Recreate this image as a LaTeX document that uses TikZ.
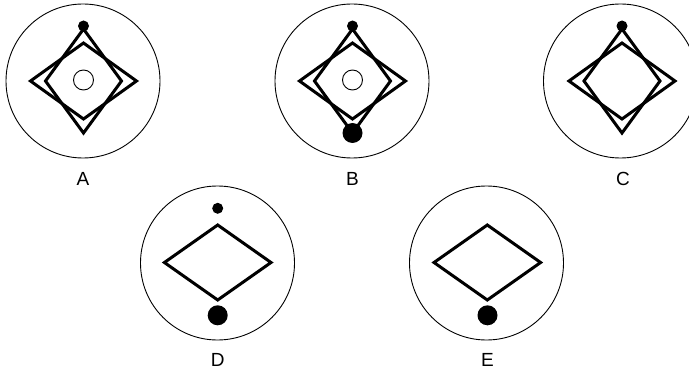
\documentclass[tikz,border=0pt]{standalone}
\usepackage{fontspec}
\setmainfont{Liberation Sans}
\usetikzlibrary{calc}

\begin{document}
\begin{tikzpicture}[x=1pt,y=-1pt,
  ring/.style={draw,circle,line width=0.9pt,minimum size=154pt,inner sep=0pt},
  hole/.style={draw,circle,line width=0.9pt,minimum size=20pt,inner sep=0pt},
  dot/.style={circle,fill,inner sep=0pt,minimum size=11pt},
  bigdot/.style={circle,fill,inner sep=0pt,minimum size=20pt},
  bold/.style={line width=3pt,line join=miter},
  lbl/.style={inner sep=0pt,font=\fontsize{19}{21}\selectfont}]
\clip (0,0) rectangle (689,369);
% big rings
\node[ring] (ra) at (83,81) {};
\node[ring] (rb) at (352,81) {};
\node[ring] (rc) at (620.5,81) {};
\node[ring] (rd) at (217.5,263) {};
\node[ring] (re) at (486.5,263) {};
% centres of the figures
\coordinate (ma) at (83.5,81);
\coordinate (mb) at (352.5,81);
\coordinate (mc) at (622,81);
\coordinate (md) at (217.7,262.5);
\coordinate (me) at (487.3,262.5);
% two crossed rhombi on top row
\foreach \m in {ma,mb,mc} {
  \draw[bold,shift={(\m)}] (0,-52) -- (38,0) -- (0,52) -- (-38,0) -- cycle;
  \draw[bold,shift={(\m)}] (0,-38) -- (53,0) -- (0,38) -- (-53,0) -- cycle;
}
% single rhombus on bottom row
\draw[bold,shift={(md)}] (0,-37.5) -- (53.3,0) -- (0,37.5) -- (-53.3,0) -- cycle;
\draw[bold,shift={(me)}] (0,-37.5) -- (53.3,0) -- (0,37.5) -- (-53.3,0) -- cycle;
% small dots
\node[dot] (ta) at (83.5,26) {};
\node[dot] (tb) at (352.5,26) {};
\node[dot] (tc) at (622,26) {};
\node[dot] (td) at (217.7,208.3) {};
% big dots
\node[bigdot] (bb) at (352.5,133) {};
\node[bigdot] (bd) at (217.7,315.3) {};
\node[bigdot] (be) at (487.5,315.3) {};
% open centres
\node[hole] (ha) at (83.5,80) {};
\node[hole] (hb) at (352.5,80) {};
% labels
\node[lbl] (la) at (83,179) {A};
\node[lbl] (lb) at (352.5,179) {B};
\node[lbl] (lc) at (623,179) {C};
\node[lbl] (ld) at (217.7,360) {D};
\node[lbl] (le) at (487.5,360) {E};
\end{tikzpicture}
\end{document}
